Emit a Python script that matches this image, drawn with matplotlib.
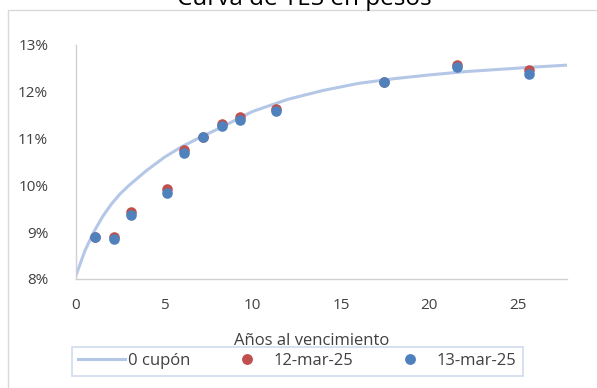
import numpy as np
import matplotlib
matplotlib.use('Agg')
import matplotlib.pyplot as plt
from matplotlib.patches import Rectangle
from matplotlib.lines import Line2D

# zero coupon curve
curve_x = [0, 0.1, 0.5, 1, 1.5, 2, 2.5, 3, 4, 5, 6, 7, 8, 10, 12, 14, 16, 18, 20, 22, 24, 26, 27.8]
curve_y = [8.08, 8.18, 8.6, 9.0, 9.33, 9.6, 9.82, 10.0, 10.32, 10.6, 10.83, 11.02, 11.2, 11.58,
           11.84, 12.03, 12.18, 12.28, 12.36, 12.43, 12.48, 12.53, 12.57]

# bonds: years to maturity and yields (%)
years = [1.09, 2.13, 3.14, 5.18, 6.14, 7.18, 8.25, 9.28, 11.32, 17.46, 21.56, 25.67]
yield_12mar = [8.90, 8.90, 9.44, 9.92, 10.76, 11.03, 11.31, 11.47, 11.64, 12.22, 12.57, 12.47]
yield_13mar = [8.90, 8.85, 9.37, 9.83, 10.70, 11.03, 11.27, 11.40, 11.60, 12.22, 12.52, 12.38]

yticks = [8, 9, 10, 11, 12, 13]
xticks = [0, 5, 10, 15, 20, 25]

plt.rcParams['font.family'] = ['Open Sans', 'DejaVu Sans']

line_col = "#b4c7e7"
red = "#c0504d"
blue = "#4f81bd"
txt = "#404040"

fig = plt.figure(figsize=(5.97, 3.88), dpi=100)
ax = fig.add_axes([76/597, 1 - 279/388, (567 - 76)/597, (279 - 45)/388])

ax.plot(curve_x, curve_y, color=line_col, linewidth=2.2, zorder=2)
ax.scatter(years, yield_12mar, s=58, color=red, zorder=3, linewidths=0)
ax.scatter(years, yield_13mar, s=58, color=blue, zorder=4, linewidths=0)

ax.set_xlim(0, 27.8)
ax.set_ylim(8, 13)
ax.set_xticks(xticks)
ax.set_yticks(yticks)
ax.set_yticklabels([str(t) + "%" for t in yticks])
ax.tick_params(length=0, labelsize=11, labelcolor=txt)
ax.tick_params(axis='y', pad=20)
ax.tick_params(axis='x', pad=14)
for s in ['top', 'right']:
    ax.spines[s].set_visible(False)
for s in ['left', 'bottom']:
    ax.spines[s].set_color("#d0d0d0")
    ax.spines[s].set_linewidth(1)

# outer frame (only top and left visible in the reference)
fig.patches.append(Rectangle((8/597, -0.1), 1.2, 1 - 10/388 + 0.1, transform=fig.transFigure,
                             fill=False, edgecolor="#d9d9d9", linewidth=1))

fig.text(304/597, 1 - 5/388, "Curva de TES en pesos", ha='center', va='baseline',
         fontsize=17.5, color='black')
fig.text(312/597, 1 - 345/388, "Años al vencimiento", ha='center', va='baseline',
         fontsize=12, color=txt)

handles = [Line2D([], [], color=line_col, linewidth=2.2),
           Line2D([], [], color=red, marker='o', linestyle='none', markersize=6.8),
           Line2D([], [], color=blue, marker='o', linestyle='none', markersize=6.8)]
leg = fig.legend(handles, ["0 cupón", "12-mar-25", "13-mar-25"], ncol=3,
                 loc='center', bbox_to_anchor=(297.5/597, 1 - 361.3/388),
                 fontsize=12, frameon=True, fancybox=False, columnspacing=2.0,
                 handlelength=2.8, handletextpad=0.2, borderpad=0.4)
leg.get_frame().set_edgecolor("#c5d3e8")
leg.get_frame().set_linewidth(1.2)
for t in leg.get_texts():
    t.set_color(txt)

fig.savefig("out.png", dpi=100)
